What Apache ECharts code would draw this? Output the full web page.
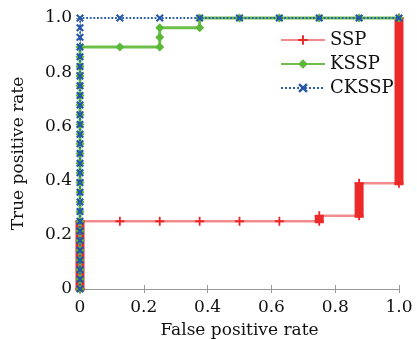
<!DOCTYPE html>
<html>
<head>
<meta charset="utf-8">
<script src="https://cdn.jsdelivr.net/npm/echarts@6/dist/echarts.min.js"></script>
<style>
  html, body { margin: 0; padding: 0; background: #fff; }
  #roc_chart { width: 417px; height: 339px; }
</style>
</head>
<body>
<div id="roc_chart"></div>
<script>
// ROC 曲线数据
const sspX = [0, 0, 0.125, 0.25, 0.375, 0.5, 0.625, 0.75, 0.75, 0.875, 0.875, 1, 1]
const sspY = [0, 0.25, 0.25, 0.25, 0.25, 0.25, 0.25, 0.25, 0.27, 0.27, 0.39, 0.39, 1.0]

// SSP 中大量重复点形成的粗竖条
const sspTieX = [0, 0.75, 0.875, 1]
const sspTieLow = [0, 0.25, 0.27, 0.39]
const sspTieHigh = [0.25, 0.27, 0.39, 1.0]

const ksspX = [0, 0, 0, 0, 0, 0, 0, 0, 0, 0, 0, 0, 0, 0, 0, 0, 0, 0, 0, 0, 0, 0, 0, 0, 0, 0,
  0.125, 0.25, 0.25, 0.25, 0.375, 0.375, 0.5, 0.625, 0.75, 0.875, 1]
const ksspY = [0, 0.036, 0.071, 0.107, 0.143, 0.179, 0.214, 0.25, 0.286, 0.321, 0.357, 0.393,
  0.429, 0.464, 0.5, 0.536, 0.571, 0.607, 0.643, 0.679, 0.714, 0.75, 0.786, 0.821, 0.857, 0.893,
  0.893, 0.893, 0.929, 0.964, 0.964, 1, 1, 1, 1, 1, 1]

const ckX = [0, 0, 0, 0, 0, 0, 0, 0, 0, 0, 0, 0, 0, 0, 0, 0, 0, 0, 0, 0, 0, 0, 0, 0, 0, 0, 0, 0, 0,
  0.125, 0.25, 0.375, 0.5, 0.625, 0.75, 0.875, 1]
const ckY = [0, 0.036, 0.071, 0.107, 0.143, 0.179, 0.214, 0.25, 0.286, 0.321, 0.357, 0.393,
  0.429, 0.464, 0.5, 0.536, 0.571, 0.607, 0.643, 0.679, 0.714, 0.75, 0.786, 0.821, 0.857, 0.893,
  0.929, 0.964, 1, 1, 1, 1, 1, 1, 1, 1, 1]

const zip = (xs, ys) => xs.map((x, i) => [x, ys[i]])

const font = 'DejaVu Serif'
const plusSymbol = 'path://M4,0H6V4H10V6H6V10H4V6H0V4H4Z'
const xSymbol = 'path://M1.8,0L5,3.2L8.2,0L10,1.8L6.8,5L10,8.2L8.2,10L5,6.8L1.8,10L0,8.2L3.2,5L0,1.8Z'

const tickLabel = (v) => (v === 0 ? '0' : v.toFixed(1))

const valueAxis = (extra) => Object.assign({
  type: 'value',
  min: 0,
  max: 1,
  interval: 0.2,
  axisLine: { show: true, lineStyle: { color: '#999', width: 1 } },
  axisTick: { show: true, inside: true, length: 4, lineStyle: { color: '#999' } },
  splitLine: { show: false },
  axisLabel: {
    color: '#111',
    fontFamily: font,
    fontSize: 17,
    margin: 10,
    formatter: tickLabel,
  },
  nameTextStyle: { color: '#111', fontFamily: font, fontSize: 17 },
}, extra)

const chart = echarts.init(document.getElementById('roc_chart'))

chart.setOption({
  animation: false,
  grid: { left: 80, right: 18, top: 18, bottom: 50, outerBoundsMode: 'none' },
  legend: {
    orient: 'vertical',
    left: 275,
    top: 26,
    itemWidth: 44,
    itemHeight: 12,
    itemGap: 6,
    textStyle: { color: '#111', fontFamily: font, fontSize: 18 },
    data: ['SSP', 'KSSP', 'CKSSP'],
  },
  xAxis: [
    valueAxis({
      name: 'False positive rate',
      nameLocation: 'middle',
      nameGap: 33,
    }),
    valueAxis({ position: 'top', axisLabel: { show: false } }),
  ],
  yAxis: [
    valueAxis({
      name: 'True positive rate',
      nameLocation: 'middle',
      nameGap: 53,
      axisLabel: {
        color: '#111', fontFamily: font, fontSize: 17, margin: 8, formatter: tickLabel,
      },
    }),
    valueAxis({ position: 'right', axisLabel: { show: false } }),
  ],
  series: [
    {
      name: 'SSP',
      type: 'line',
      data: zip(sspX, sspY),
      clip: false,
      z: 1,
      lineStyle: { color: '#f28c8c', width: 2.5 },
      itemStyle: { color: '#ec2626' },
      symbol: plusSymbol,
      symbolSize: 9,
      showAllSymbol: true,
    },
    {
      name: 'SSP ties',
      type: 'custom',
      clip: false,
      z: 2,
      data: sspTieX.map((x, i) => [x, sspTieLow[i], sspTieHigh[i]]),
      renderItem: function (params, api) {
        const top = api.coord([api.value(0), api.value(2)])
        const bot = api.coord([api.value(0), api.value(1)])
        return {
          type: 'rect',
          shape: { x: top[0] - 4.5, y: top[1] - 1, width: 9, height: bot[1] - top[1] + 3 },
          style: { fill: '#ec2a2a' },
        }
      },
    },
    {
      name: 'KSSP',
      type: 'line',
      data: zip(ksspX, ksspY),
      clip: false,
      z: 3,
      lineStyle: { color: '#6cc04a', width: 3 },
      itemStyle: { color: '#5cb83a' },
      symbol: 'diamond',
      symbolSize: 9,
      showAllSymbol: true,
    },
    {
      name: 'CKSSP',
      type: 'line',
      data: zip(ckX, ckY),
      clip: false,
      z: 4,
      lineStyle: { color: '#2a5db0', width: 1.8, type: 'dotted' },
      itemStyle: { color: '#2456a8' },
      symbol: xSymbol,
      symbolSize: 8,
      showAllSymbol: true,
    },
  ],
})
</script>
</body>
</html>
